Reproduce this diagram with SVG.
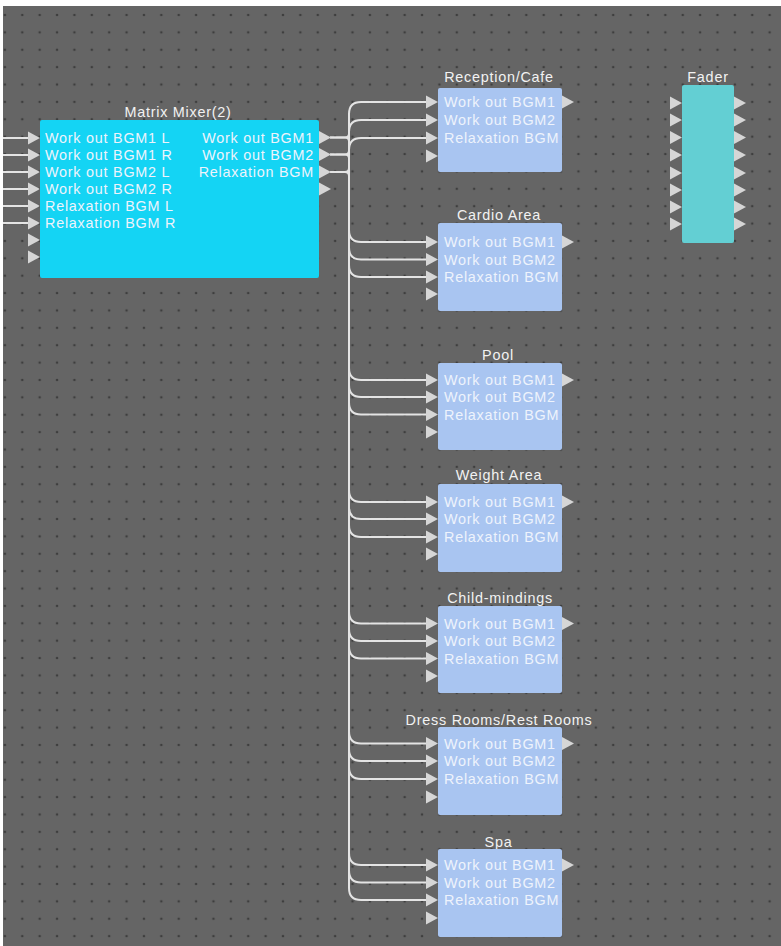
<svg xmlns="http://www.w3.org/2000/svg" width="781" height="946" viewBox="0 0 781 946">
<style>
.lbl{font-family:"Liberation Sans",Arial,sans-serif;font-size:14.4px;letter-spacing:0.75px;fill:#eef3fc}
.ttl{font-family:"Liberation Sans",Arial,sans-serif;font-size:14.4px;letter-spacing:0.75px;fill:#f2f2f2;text-anchor:middle}
.end{text-anchor:end}
.wire{fill:none;stroke:#e4e4e4;stroke-width:2}
.tri{fill:#d6d6d6}
.mm{fill:#14d4f4}
.zone{fill:#a9c5f1}
.fader{fill:#63cfd3}
</style>
<defs>
<pattern id="dots" patternUnits="userSpaceOnUse" x="13.6" y="6.3" width="17.38" height="17.38">
<circle cx="8.69" cy="8.69" r="1.3" fill="#3e3e3e"/>
</pattern>
<path id="tri" d="M0,-6.5 L12,0 L0,6.5 Z"/>
</defs>
<rect x="0" y="0" width="781" height="946" fill="#ffffff"/>
<rect x="3" y="6" width="778" height="940" fill="#656565"/>
<rect x="3" y="6" width="778" height="940" fill="url(#dots)"/>

<g id="connectors">
<path class="wire" d="M3,138 H28 M3,155 H28 M3,172 H28 M3,189 H28 M3,206 H28 M3,223 H28"/>
<path class="wire" d="M330,137.5 H345 Q349,137.5 349,133.5 V114 Q349,102 361,102 H426"/>
<path class="wire" d="M330,154.5 H345 Q349,154.5 349,150.5 V132 Q349,120 361,120 H426"/>
<path class="wire" d="M330,172 H345 Q349,172 349,168 V150 Q349,138 361,138 H426"/>
<path class="wire" d="M330,137.5 H345 Q349,137.5 349,141.5 V230 Q349,242 361,242 H426"/>
<path class="wire" d="M330,154.5 H345 Q349,154.5 349,158.5 V247.5 Q349,259.5 361,259.5 H426"/>
<path class="wire" d="M330,172 H345 Q349,172 349,176 V265 Q349,277 361,277 H426"/>
<path class="wire" d="M349,141.5 V368 Q349,380 361,380 H426"/>
<path class="wire" d="M349,158.5 V385 Q349,397 361,397 H426"/>
<path class="wire" d="M349,176 V402.5 Q349,414.5 361,414.5 H426"/>
<path class="wire" d="M349,141.5 V490 Q349,502 361,502 H426"/>
<path class="wire" d="M349,158.5 V507 Q349,519 361,519 H426"/>
<path class="wire" d="M349,176 V525 Q349,537 361,537 H426"/>
<path class="wire" d="M349,141.5 V611.5 Q349,623.5 361,623.5 H426"/>
<path class="wire" d="M349,158.5 V629 Q349,641 361,641 H426"/>
<path class="wire" d="M349,176 V646.5 Q349,658.5 361,658.5 H426"/>
<path class="wire" d="M349,141.5 V731.5 Q349,743.5 361,743.5 H426"/>
<path class="wire" d="M349,158.5 V749 Q349,761 361,761 H426"/>
<path class="wire" d="M349,176 V767 Q349,779 361,779 H426"/>
<path class="wire" d="M349,141.5 V853 Q349,865 361,865 H426"/>
<path class="wire" d="M349,158.5 V870.5 Q349,882.5 361,882.5 H426"/>
<path class="wire" d="M349,176 V888 Q349,900 361,900 H426"/>
</g>

<g id="matrix-mixer">
<text class="ttl" x="178" y="117">Matrix Mixer(2)</text>
<rect class="mm" x="40" y="120" width="279" height="158" rx="2"/>
<use href="#tri" class="tri" x="28" y="138"/><use href="#tri" class="tri" x="28" y="155"/>
<use href="#tri" class="tri" x="28" y="172"/><use href="#tri" class="tri" x="28" y="189"/>
<use href="#tri" class="tri" x="28" y="206"/><use href="#tri" class="tri" x="28" y="223"/>
<use href="#tri" class="tri" x="28" y="240"/><use href="#tri" class="tri" x="28" y="257"/>
<use href="#tri" class="tri" x="319" y="137.5"/><use href="#tri" class="tri" x="319" y="154.5"/>
<use href="#tri" class="tri" x="319" y="172"/><use href="#tri" class="tri" x="319" y="189"/>
<text class="lbl" x="45" y="143">Work out BGM1 L</text>
<text class="lbl" x="45" y="160">Work out BGM1 R</text>
<text class="lbl" x="45" y="177">Work out BGM2 L</text>
<text class="lbl" x="45" y="194">Work out BGM2 R</text>
<text class="lbl" x="45" y="211">Relaxation BGM L</text>
<text class="lbl" x="45" y="228">Relaxation BGM R</text>
<text class="lbl end" x="314" y="142.5">Work out BGM1</text>
<text class="lbl end" x="314" y="159.5">Work out BGM2</text>
<text class="lbl end" x="314" y="177">Relaxation BGM</text>
</g>

<g id="reception-cafe">
<text class="ttl" x="499" y="82">Reception/Cafe</text>
<rect class="zone" x="438" y="88" width="124" height="84" rx="2"/>
<use href="#tri" class="tri" x="426" y="102"/><use href="#tri" class="tri" x="426" y="120"/>
<use href="#tri" class="tri" x="426" y="138"/><use href="#tri" class="tri" x="426" y="156"/>
<use href="#tri" class="tri" x="562" y="102"/>
<text class="lbl" x="444" y="107">Work out BGM1</text>
<text class="lbl" x="444" y="125">Work out BGM2</text>
<text class="lbl" x="444" y="143">Relaxation BGM</text>
</g>

<g id="cardio-area">
<text class="ttl" x="499" y="220">Cardio Area</text>
<rect class="zone" x="438" y="223" width="124" height="88" rx="2"/>
<use href="#tri" class="tri" x="426" y="242"/><use href="#tri" class="tri" x="426" y="259.5"/>
<use href="#tri" class="tri" x="426" y="277"/><use href="#tri" class="tri" x="426" y="294"/>
<use href="#tri" class="tri" x="562" y="242"/>
<text class="lbl" x="444" y="247">Work out BGM1</text>
<text class="lbl" x="444" y="264.5">Work out BGM2</text>
<text class="lbl" x="444" y="282">Relaxation BGM</text>
</g>

<g id="pool">
<text class="ttl" x="498" y="360">Pool</text>
<rect class="zone" x="438" y="363" width="124" height="87" rx="2"/>
<use href="#tri" class="tri" x="426" y="380"/><use href="#tri" class="tri" x="426" y="397"/>
<use href="#tri" class="tri" x="426" y="414.5"/><use href="#tri" class="tri" x="426" y="432"/>
<use href="#tri" class="tri" x="562" y="380"/>
<text class="lbl" x="444" y="385">Work out BGM1</text>
<text class="lbl" x="444" y="402">Work out BGM2</text>
<text class="lbl" x="444" y="419.5">Relaxation BGM</text>
</g>

<g id="weight-area">
<text class="ttl" x="499" y="480">Weight Area</text>
<rect class="zone" x="438" y="484" width="124" height="88" rx="2"/>
<use href="#tri" class="tri" x="426" y="502"/><use href="#tri" class="tri" x="426" y="519"/>
<use href="#tri" class="tri" x="426" y="537"/><use href="#tri" class="tri" x="426" y="554"/>
<use href="#tri" class="tri" x="562" y="502"/>
<text class="lbl" x="444" y="507">Work out BGM1</text>
<text class="lbl" x="444" y="524">Work out BGM2</text>
<text class="lbl" x="444" y="542">Relaxation BGM</text>
</g>

<g id="child-mindings">
<text class="ttl" x="500" y="603">Child-mindings</text>
<rect class="zone" x="438" y="606" width="124" height="87" rx="2"/>
<use href="#tri" class="tri" x="426" y="623.5"/><use href="#tri" class="tri" x="426" y="641"/>
<use href="#tri" class="tri" x="426" y="658.5"/><use href="#tri" class="tri" x="426" y="676"/>
<use href="#tri" class="tri" x="562" y="623.5"/>
<text class="lbl" x="444" y="628.5">Work out BGM1</text>
<text class="lbl" x="444" y="646">Work out BGM2</text>
<text class="lbl" x="444" y="663.5">Relaxation BGM</text>
</g>

<g id="dress-rooms">
<text class="ttl" x="499" y="725">Dress Rooms/Rest Rooms</text>
<rect class="zone" x="438" y="727" width="124" height="88" rx="2"/>
<use href="#tri" class="tri" x="426" y="743.5"/><use href="#tri" class="tri" x="426" y="761"/>
<use href="#tri" class="tri" x="426" y="779"/><use href="#tri" class="tri" x="426" y="797"/>
<use href="#tri" class="tri" x="562" y="743.5"/>
<text class="lbl" x="444" y="748.5">Work out BGM1</text>
<text class="lbl" x="444" y="766">Work out BGM2</text>
<text class="lbl" x="444" y="784">Relaxation BGM</text>
</g>

<g id="spa">
<text class="ttl" x="498.5" y="847">Spa</text>
<rect class="zone" x="438" y="849" width="124" height="88" rx="2"/>
<use href="#tri" class="tri" x="426" y="865"/><use href="#tri" class="tri" x="426" y="882.5"/>
<use href="#tri" class="tri" x="426" y="900"/><use href="#tri" class="tri" x="426" y="918"/>
<use href="#tri" class="tri" x="562" y="865"/>
<text class="lbl" x="444" y="870">Work out BGM1</text>
<text class="lbl" x="444" y="887.5">Work out BGM2</text>
<text class="lbl" x="444" y="905">Relaxation BGM</text>
</g>

<g id="fader">
<text class="ttl" x="708" y="82">Fader</text>
<rect class="fader" x="682" y="85" width="52" height="158" rx="2"/>
<use href="#tri" class="tri" x="670" y="103"/><use href="#tri" class="tri" x="670" y="120"/>
<use href="#tri" class="tri" x="670" y="137.5"/><use href="#tri" class="tri" x="670" y="155"/>
<use href="#tri" class="tri" x="670" y="173"/><use href="#tri" class="tri" x="670" y="190"/>
<use href="#tri" class="tri" x="670" y="207"/><use href="#tri" class="tri" x="670" y="224"/>
<use href="#tri" class="tri" x="734" y="103"/><use href="#tri" class="tri" x="734" y="120"/>
<use href="#tri" class="tri" x="734" y="137.5"/><use href="#tri" class="tri" x="734" y="155"/>
<use href="#tri" class="tri" x="734" y="173"/><use href="#tri" class="tri" x="734" y="190"/>
<use href="#tri" class="tri" x="734" y="207"/><use href="#tri" class="tri" x="734" y="224"/>
</g>
</svg>
